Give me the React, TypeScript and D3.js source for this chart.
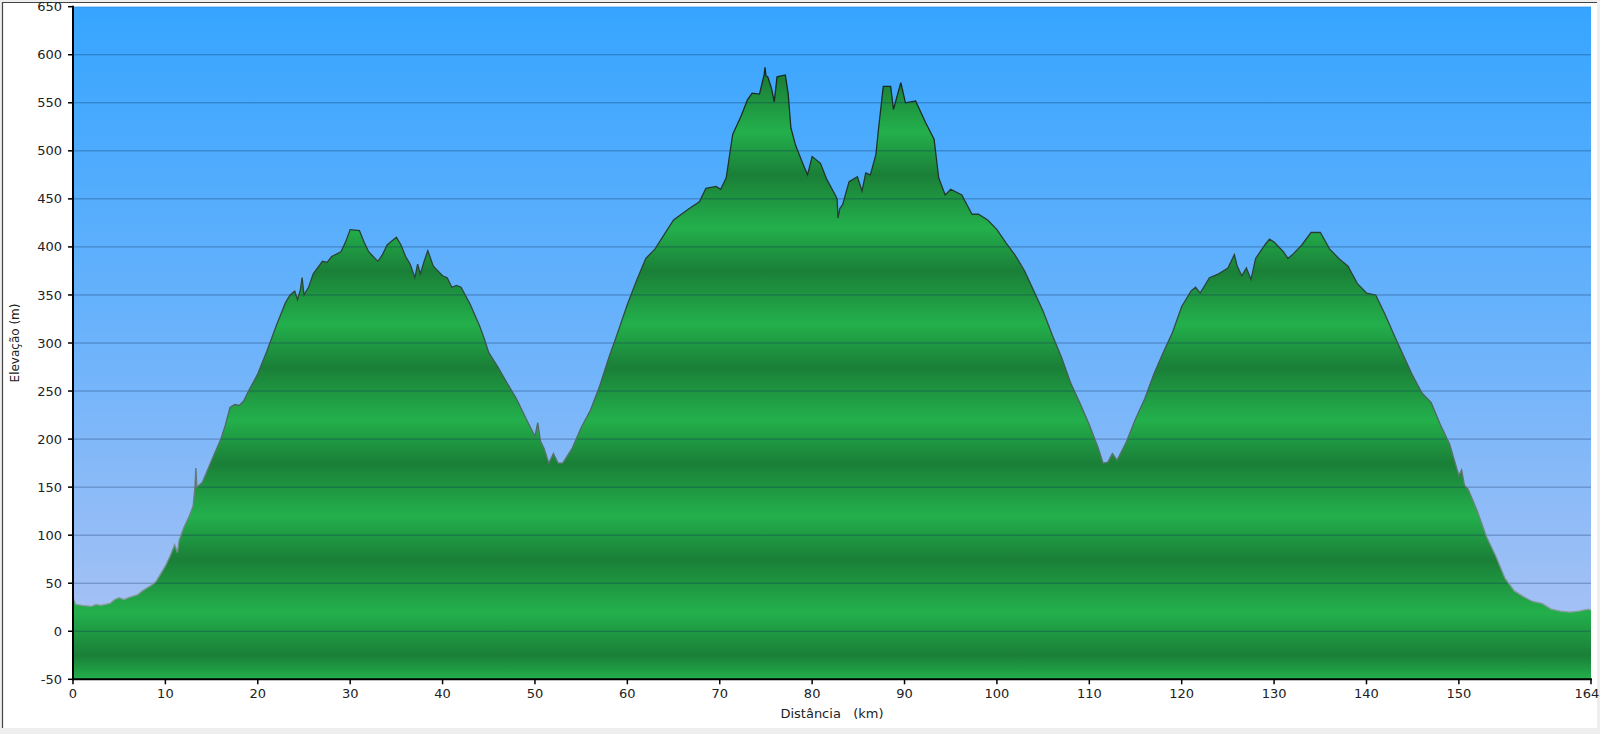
import React from "react";
import * as d3 from "d3";

const distKm = [
  0, 0.3, 1, 2, 2.5, 3, 4, 4.5, 5, 5.5, 6, 7, 7.5, 8, 8.5, 9, 10, 10.5, 11, 11.3, 11.5, 12, 12.5, 13, 13.2, 13.3, 13.4, 14, 15, 16, 16.5, 17, 17.5, 18, 18.5, 19, 20,
  21, 22, 23, 23.5, 24, 24.3, 24.6, 24.8, 25, 25.5, 26, 27, 27.5, 28, 29, 29.5, 30, 31, 31.5, 32, 33, 33.5, 34, 35, 35.5, 36, 36.5, 37, 37.3, 37.6, 38, 38.4, 39, 40,
  40.5, 41, 41.5, 42, 43, 44, 44.5, 45, 46, 47, 48, 49, 50, 50.3, 50.6, 51, 51.5, 52, 52.5, 53, 54, 55, 56, 57, 58, 59, 60, 61, 62, 63, 64, 65, 66, 66.7, 67.8,
  68.5, 69.6, 70.1, 70.7, 71.4, 72.3, 73.0, 73.5, 74.3, 74.8, 74.9, 75.0, 75.2, 75.6, 75.9, 76.2, 77.1, 77.4, 77.7, 78.2, 78.9, 79.5, 80.0, 80.9, 81.6, 82.5, 82.7,
  82.8, 83.0, 83.3, 84.0, 84.9, 85.4, 85.8, 86.3, 86.9, 87.2, 87.7, 88.5, 88.8, 89.6, 90.1, 91.2, 92.3, 93.2, 93.7, 94.4, 95.0, 96.2, 97.3, 98, 99, 100, 101, 102,
  103, 104, 105, 106, 107, 108, 109, 110, 111, 111.5, 112, 112.5, 113, 114, 115, 116, 117, 118, 119, 120, 121, 121.5, 122, 123, 124, 125, 125.7, 126, 126.5, 127,
  127.5, 128, 129, 129.5, 130, 131, 131.5, 132, 133, 134, 135, 136, 137, 138, 139, 140, 141, 142, 143, 144, 145, 146, 147, 148, 149, 150, 150.3, 150.6, 151, 152,
  153, 154, 155, 156, 157, 158, 159, 160, 161, 162, 163, 164, 164.3,
];

const elevM = [
  35, 28, 27, 26, 28, 27, 29, 33, 35, 33, 35, 38, 42, 45, 48, 52, 68, 78, 90, 82, 95, 108, 118, 130, 150, 170, 150, 155, 178, 200, 215, 233, 236, 235, 240, 250, 268,
  292, 318, 342, 350, 354, 345, 355, 368, 350, 358, 372, 385, 384, 390, 395, 405, 418, 417, 405, 395, 385, 392, 402, 410, 402, 390, 382, 368, 382, 372, 385, 396, 380, 370,
  368, 358, 360, 358, 340, 318, 305, 290, 275, 258, 242, 222, 203, 217, 198, 190, 175, 185, 175, 175, 190, 212, 230, 255, 285, 312, 340, 365, 388, 398, 413, 428, 435, 440, 447,
  461, 463, 460, 472, 517, 536, 553, 560, 559, 579, 587, 578, 577, 565, 551, 577, 579, 560, 524, 506, 489, 475, 494, 487, 470, 454, 450,
  430, 440, 444, 468, 473, 458, 477, 475, 496, 524, 567, 567, 543, 571, 550, 552, 529, 512, 472, 454, 460, 454, 434, 434, 428, 418, 404, 391,
  375, 354, 333, 308, 285, 258, 237, 215, 190, 175, 176, 185, 178, 197, 221, 242, 268, 290, 311, 338, 354, 358, 352, 368, 372, 378, 392, 380, 370, 378,
  366, 388, 402, 408, 405, 395, 388, 392, 402, 415, 415, 398, 388, 380, 362, 352, 350, 330, 308, 287, 266, 248, 238, 215, 195, 162, 168, 152, 148, 125,
  98, 78, 55, 42, 36, 31, 29, 23, 21, 20, 21, 23, 22,
];

const yTicks = [-50, 0, 50, 100, 150, 200, 250, 300, 350, 400, 450, 500, 550, 600, 650];
const xTicks = [0, 10, 20, 30, 40, 50, 60, 70, 80, 90, 100, 110, 120, 130, 140, 150];
const xEnd = 164.3;
const xEndLabel = "164";
const xTitle = "Distância   (km)";
const yTitle = "Elevação (m)";

const W = 1600;
const H = 734;
const L = 73;
const R = 1591;
const T = 6.7;
const B = 679.3;

export default function App() {
  const x = d3.scaleLinear().domain([0, xEnd]).range([L, R]);
  const y = d3.scaleLinear().domain([-50, 650]).range([B, T]);
  const pts = distKm.map((d, i) => [d, elevM[i]] as [number, number]);
  const area = d3
    .area<[number, number]>()
    .x((d) => x(d[0]))
    .y0(y(-50))
    .y1((d) => y(d[1]));
  const line = d3
    .line<[number, number]>()
    .x((d) => x(d[0]))
    .y((d) => y(d[1]));

  // banded green: light near 100k+20 m, dark near 100k+75 m
  const bandStops: { off: number; color: string }[] = [];
  for (let base = -100; base <= 700; base += 100) {
    const lv = base + 20;
    const dv = base + 75;
    bandStops.push({ off: (y(lv) - T) / (B - T), color: "#23b04c" });
    bandStops.push({ off: (y(dv) - T) / (B - T), color: "#1a7f37" });
  }
  bandStops.sort((a, b) => a.off - b.off);

  return (
    <div style={{ position: "absolute", left: 0, top: 0, width: W, height: H }}>
      <svg width={W} height={H} style={{ display: "block" }} fontFamily="'DejaVu Sans', Verdana, sans-serif">
        <defs>
          <linearGradient id="sky" gradientUnits="userSpaceOnUse" x1={0} y1={T} x2={0} y2={B}>
            <stop offset="0" stopColor="#36a5ff" />
            <stop offset="0.5" stopColor="#6cb3fb" />
            <stop offset="1" stopColor="#b2c4f3" />
          </linearGradient>
          <linearGradient id="ground" gradientUnits="userSpaceOnUse" x1={0} y1={T} x2={0} y2={B}>
            {bandStops.map((s, i) => (
              <stop key={i} offset={s.off} stopColor={s.color} />
            ))}
          </linearGradient>
          <linearGradient id="edge" gradientUnits="userSpaceOnUse" x1={0} y1={T} x2={0} y2={B}>
            <stop offset="0" stopColor="#0e1f18" />
            <stop offset="0.45" stopColor="#2e4a3c" />
            <stop offset="1" stopColor="#9fb0b8" />
          </linearGradient>
          <clipPath id="plotClip">
            <rect x={L} y={T} width={R - L} height={B - T} />
          </clipPath>
        </defs>
        <rect x={0} y={0} width={W} height={H} fill="#eeeeee" />
        <rect x={2} y={2} width={1595} height={726} fill="#ffffff" />
        <line x1={2.5} y1={2} x2={2.5} y2={728} stroke="#444" strokeWidth={1.2} />
        <line x1={2} y1={2.5} x2={1597} y2={2.5} stroke="#444" strokeWidth={1.2} />
        <rect x={L} y={T} width={R - L} height={B - T} fill="url(#sky)" />
        <g clipPath="url(#plotClip)">
          <path d={area(pts) || ""} fill="url(#ground)" />
          {yTicks.map((t) => (
            <line key={t} x1={L} x2={R} y1={y(t)} y2={y(t)} stroke="rgba(10,40,90,0.38)" strokeWidth={1} />
          ))}
          <path d={line(pts) || ""} fill="none" stroke="url(#edge)" strokeWidth={1.3} />
        </g>
        <line x1={L} y1={T - 1} x2={L} y2={B + 1} stroke="#000" strokeWidth={2} />
        <line x1={L - 1} y1={B} x2={R + 1} y2={B} stroke="#000" strokeWidth={2} />
        {yTicks.map((t) => (
          <g key={t}>
            <line x1={L - 5} x2={L} y1={y(t)} y2={y(t)} stroke="#000" strokeWidth={1.5} />
            <text x={L - 11} y={y(t)} dy="0.35em" textAnchor="end" fontSize={13} fill="#222">
              {t}
            </text>
          </g>
        ))}
        {xTicks.map((t) => (
          <g key={t}>
            <line x1={x(t)} x2={x(t)} y1={B} y2={B + 5} stroke="#000" strokeWidth={1.5} />
            <text x={x(t)} y={698} textAnchor="middle" fontSize={13} fill="#222">
              {t}
            </text>
          </g>
        ))}
        <line x1={x(xEnd)} x2={x(xEnd)} y1={B} y2={B + 5} stroke="#000" strokeWidth={1.5} />
        <text x={x(xEnd) - 4} y={698} textAnchor="middle" fontSize={13} fill="#222">
          {xEndLabel}
        </text>
        <text x={(L + R) / 2} y={718} textAnchor="middle" fontSize={13} fill="#222" style={{ whiteSpace: "pre" }}>
          {xTitle}
        </text>
        <text
          transform={`translate(19,${(T + B) / 2}) rotate(-90)`}
          textAnchor="middle"
          fontSize={12}
          fill="#222"
        >
          {yTitle}
        </text>
      </svg>
    </div>
  );
}
